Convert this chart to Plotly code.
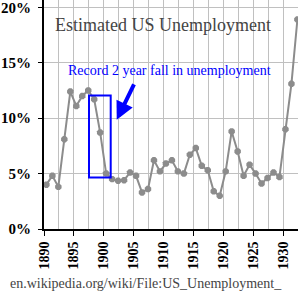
import plotly.graph_objects as go

years = list(range(1890, 1933))
unemployment = [4.0, 4.8, 3.8, 8.1, 12.4, 11.1, 12.0, 12.5, 11.7, 8.7,
                5.0, 4.5, 4.35, 4.4, 5.1, 4.8, 3.3, 3.6, 6.2, 5.2,
                5.9, 6.2, 5.2, 5.0, 6.7, 7.3, 5.7, 5.3, 3.4, 3.0,
                5.2, 8.8, 7.0, 4.8, 5.8, 5.0, 4.1, 4.6, 5.1, 4.7,
                9.0, 13.1, 18.9]
x_ticks = list(range(1890, 1931, 5))
y_ticks = [0, 5, 10, 15, 20]

title_text = "Estimated US Unemployment"
note_text = "Record 2 year fall in unemployment"
source_text = "en.wikipedia.org/wiki/File:US_Unemployment_"

serif = "Liberation Serif"
gray = "#8c8c8c"

fig = go.Figure()
fig.add_trace(go.Scatter(
    x=[y + 0.4 for y in years], y=unemployment,
    mode="lines+markers",
    line=dict(color=gray, width=2),
    marker=dict(symbol="octagon", size=7, color=gray),
    hoverinfo="skip",
))

fig.add_shape(type="rect", xref="x", yref="y",
              x0=1897.53, x1=1901.16, y0=4.65, y1=12.04,
              line=dict(color="#0000ff", width=2))

fig.add_annotation(x=1902.17, y=9.85, xref="x", yref="y",
                   ax=18, ay=-37, showarrow=True,
                   arrowhead=2, arrowsize=0.9, arrowwidth=4,
                   arrowcolor="#0000ff", text="")

fig.add_annotation(text=title_text, xref="paper", yref="paper",
                   x=0.4676, y=0.89, xanchor="center", yanchor="middle",
                   showarrow=False,
                   font=dict(family=serif, size=18, color="#444444"))
fig.add_annotation(text=note_text, xref="paper", yref="paper",
                   x=0.495, y=0.69, xanchor="center", yanchor="middle",
                   showarrow=False,
                   font=dict(family=serif, size=14, color="#0000ff"))
fig.add_annotation(text=source_text, xref="paper", yref="paper",
                   x=0.4, y=-0.24, xanchor="center", yanchor="middle",
                   showarrow=False,
                   font=dict(family=serif, size=14, color="#444444"))

fig.update_layout(
    width=302, height=291,
    margin=dict(l=44, r=4, t=0, b=62),
    paper_bgcolor="white", plot_bgcolor="white",
    showlegend=False,
    xaxis=dict(range=[1890, 1932.5], tickvals=x_ticks,
               ticktext=[str(v) for v in x_ticks],
               tickangle=-90, ticks="outside", ticklen=5,
               tickcolor="black",
               tickfont=dict(family=serif, size=14, color="black", weight="bold"),
               ticklabeloverflow="allow",
               showgrid=True, gridcolor="#c0c0c0", gridwidth=1,
               minor=dict(dtick=2.5, tick0=1890, showgrid=True,
                          gridcolor="#c0c0c0", gridwidth=1),
               showline=True, linecolor="black", linewidth=2,
               zeroline=False, fixedrange=True),
    yaxis=dict(range=[0, 20.66], tickvals=y_ticks,
               ticktext=[f"{v}%" for v in y_ticks],
               ticks="outside", ticklen=4, tickcolor="black",
               tickfont=dict(family=serif, size=15, color="black", weight="bold"),
               ticklabeloverflow="allow", ticklabelstandoff=4,
               showgrid=True, gridcolor="#c0c0c0", gridwidth=1,
               showline=True, linecolor="black", linewidth=2,
               zeroline=False, fixedrange=True),
)

fig.write_html("out.html", config={"displayModeBar": False})
